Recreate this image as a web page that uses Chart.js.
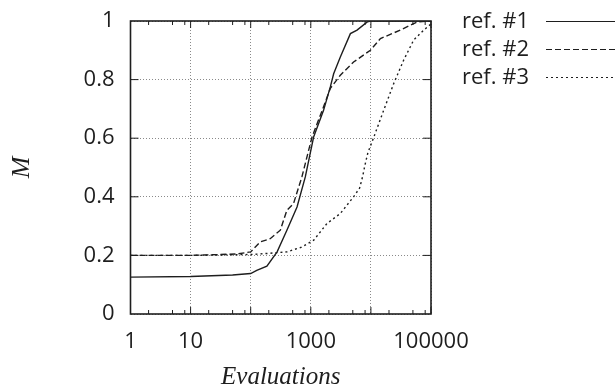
<!DOCTYPE html>
<html>
<head>
<meta charset="utf-8">
<script src="https://cdn.jsdelivr.net/npm/chart.js@4/dist/chart.umd.min.js"></script>
<style>
  body { margin: 0; background: #fff; }
</style>
</head>
<body>
<canvas id="chart" width="615" height="392"></canvas>
<script>
// Giá trị (trục x log: số lần đánh giá, trục y: M)
const evals1 = [1, 10, 50, 100, 126, 186, 275, 400, 590, 810, 1114, 1630, 2113, 2400, 3100, 4560, 5880, 8700, 10000, 100000];
const ref1   = [0.126, 0.128, 0.133, 0.138, 0.149, 0.163, 0.212, 0.286, 0.365, 0.468, 0.604, 0.695, 0.775, 0.82, 0.877, 0.957, 0.969, 0.997, 1, 1];

const evals2 = [1, 10, 30, 60, 100, 144, 211, 311, 400, 516, 711, 1048, 1630, 2113, 3100, 5150, 9800, 14400, 31000, 59000, 100000];
const ref2   = [0.2, 0.2, 0.203, 0.205, 0.212, 0.246, 0.257, 0.286, 0.354, 0.377, 0.468, 0.604, 0.707, 0.77, 0.815, 0.86, 0.9, 0.94, 0.969, 0.997, 1];

const evals3 = [1, 10, 100, 200, 400, 700, 1120, 1860, 3100, 5150, 6500, 7300, 8000, 8900, 11200, 16300, 24000, 35000, 51500, 76000, 100000];
const ref3   = [0.2, 0.2, 0.203, 0.207, 0.212, 0.228, 0.252, 0.309, 0.343, 0.4, 0.43, 0.47, 0.51, 0.55, 0.604, 0.695, 0.787, 0.866, 0.935, 0.969, 0.99];

const seriesLabels = ['ref. #1', 'ref. #2', 'ref. #3'];
const xTickValues = [1, 10, 100, 1000, 10000, 100000];
const xTickLabels = ['1', '10', '', '1000', '', '100000'];
const xMinorSteps = [2, 5, 8];
const yTickValues = [0.2, 0.4, 0.6, 0.8];

const sansFont = '"Open Sans", "Noto Sans", sans-serif';
const serifFont = '"Liberation Serif", "DejaVu Serif", serif';
const ink = '#1e1e1e';

function toPoints(xs, ys) {
    return xs.map((x, i) => ({ x: x, y: ys[i] }));
}

// Khung + vạch chia nhỏ vẽ vào phía trong vùng biểu đồ
const frameTicks = {
    id: 'frameTicks',
    afterDatasetsDraw(chart) {
        const { ctx, chartArea: a, scales: { x, y } } = chart;
        ctx.save();
        ctx.strokeStyle = ink;
        ctx.lineWidth = 1;
        ctx.setLineDash([]);
        ctx.beginPath();
        xTickValues.forEach(v => {
            const px = x.getPixelForValue(v);
            ctx.moveTo(px, a.bottom); ctx.lineTo(px, a.bottom - 7);
            ctx.moveTo(px, a.top); ctx.lineTo(px, a.top + 7);
            if (v < 100000) {
                xMinorSteps.forEach(m => {
                    const pm = x.getPixelForValue(v * m);
                    ctx.moveTo(pm, a.bottom); ctx.lineTo(pm, a.bottom - 4);
                    ctx.moveTo(pm, a.top); ctx.lineTo(pm, a.top + 4);
                });
            }
        });
        yTickValues.forEach(v => {
            const py = y.getPixelForValue(v);
            ctx.moveTo(a.left, py); ctx.lineTo(a.left + 8, py);
            ctx.moveTo(a.right, py); ctx.lineTo(a.right - 8, py);
        });
        ctx.stroke();
        ctx.lineWidth = 1.6;
        ctx.strokeRect(a.left, a.top, a.right - a.left, a.bottom - a.top);
        ctx.restore();
    }
};

// Chú giải bên phải: chữ trước, mẫu đường sau
const sideLegend = {
    id: 'sideLegend',
    afterDraw(chart) {
        const ctx = chart.ctx;
        ctx.save();
        ctx.font = '22px ' + sansFont;
        ctx.textBaseline = 'middle';
        chart.data.datasets.forEach((ds, i) => {
            const yy = 21.5 + i * 28;
            ctx.fillStyle = ink;
            ctx.fillText(ds.label, 462, yy);
            ctx.strokeStyle = ds.borderColor;
            ctx.lineWidth = 1.2;
            ctx.setLineDash(ds.borderDash);
            ctx.beginPath();
            ctx.moveTo(546, yy);
            ctx.lineTo(615, yy);
            ctx.stroke();
        });
        ctx.restore();
    }
};

const lineStyle = {
    borderColor: ink,
    borderWidth: 1.4,
    pointRadius: 0,
    tension: 0,
    fill: false
};

new Chart(document.getElementById('chart'), {
    type: 'line',
    data: {
        datasets: [
            { ...lineStyle, label: seriesLabels[0], data: toPoints(evals1, ref1), borderDash: [] },
            { ...lineStyle, label: seriesLabels[1], data: toPoints(evals2, ref2), borderDash: [6, 3] },
            { ...lineStyle, label: seriesLabels[2], data: toPoints(evals3, ref3), borderDash: [2, 3] }
        ]
    },
    options: {
        responsive: false,
        animation: false,
        devicePixelRatio: 1,
        layout: { autoPadding: false, padding: { left: 0, right: 184, top: 21, bottom: 0 } },
        plugins: {
            legend: { display: false },
            tooltip: { enabled: false }
        },
        scales: {
            x: {
                type: 'logarithmic',
                min: 1,
                max: 100000,
                afterBuildTicks: s => { s.ticks = xTickValues.map(v => ({ value: v })); },
                afterFit: s => { s.height = 78; },
                ticks: {
                    autoSkip: false,
                    maxRotation: 0,
                    padding: 15,
                    color: ink,
                    font: { family: sansFont, size: 22 },
                    callback: (v, i) => xTickLabels[i]
                },
                grid: { color: '#8a8a8a', lineWidth: 1, drawTicks: false },
                border: { display: false, dash: [1, 2] },
                title: {
                    display: true,
                    text: 'Evaluations',
                    color: ink,
                    padding: { top: 9, bottom: 0 },
                    font: { family: serifFont, size: 25, style: 'italic' }
                }
            },
            y: {
                min: 0,
                max: 1,
                afterFit: s => { s.width = 130.5; },
                ticks: {
                    stepSize: 0.2,
                    padding: 0,
                    color: ink,
                    font: { family: sansFont, size: 22 },
                    callback: v => String(Number(v.toFixed(1)))
                },
                // khoảng cách nhãn-trục lấy bằng vạch trong suốt
                grid: { color: '#8a8a8a', lineWidth: 1, drawTicks: true, tickLength: 16, tickColor: 'rgba(0,0,0,0)' },
                border: { display: false, dash: [1, 2] },
                title: {
                    display: true,
                    text: 'M',
                    color: ink,
                    padding: { top: 7, bottom: 0 },
                    font: { family: serifFont, size: 26, style: 'italic' }
                }
            }
        }
    },
    plugins: [frameTicks, sideLegend]
});
</script>
</body>
</html>
